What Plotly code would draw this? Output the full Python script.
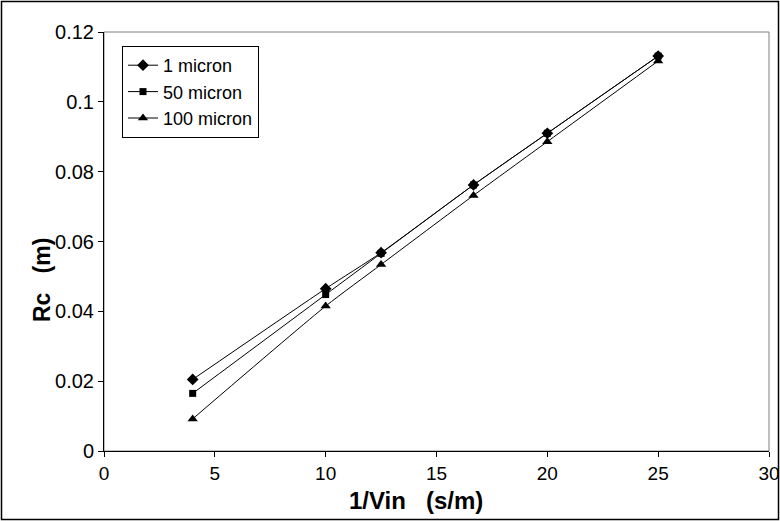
import plotly.graph_objects as go

x_vals = [4, 10, 12.5, 16.67, 20, 25]
rc_1micron = [0.0205, 0.0465, 0.0568, 0.0762, 0.0910, 0.1131]
rc_50micron = [0.0165, 0.0448, 0.0566, 0.0762, 0.0910, 0.1131]
rc_100micron = [0.0092, 0.0415, 0.0534, 0.0732, 0.0886, 0.1117]

series = [
    ("1 micron", rc_1micron, "diamond", 9),
    ("50 micron", rc_50micron, "square", 7),
    ("100 micron", rc_100micron, "triangle-up", 9),
]

fig = go.Figure()
for name, ys, sym, sz in series:
    fig.add_trace(go.Scatter(
        x=x_vals, y=ys, name=name, mode="lines+markers",
        line=dict(color="black", width=1, shape="spline", smoothing=0.6),
        marker=dict(symbol=sym, size=sz, color="black"),
    ))

font = "Liberation Sans, Arial, sans-serif"
L, R, T, B = 104, 11, 32, 70
W, H = 780, 521
pw, ph = W - L - R, H - T - B
sp = "\u00a0\u00a0\u00a0"

def px_x(p):
    return (p - L) / pw

def px_y(p):
    return (H - B - p) / ph

fig.update_layout(
    width=W, height=H,
    margin=dict(l=L, r=R, t=T, b=B, autoexpand=False),
    paper_bgcolor="white", plot_bgcolor="white",
    font=dict(family=font, size=18, color="black"),
    showlegend=True,
    legend=dict(
        x=px_x(122), y=px_y(46), xanchor="left", yanchor="top",
        bordercolor="black", borderwidth=1, bgcolor="white",
        font=dict(family=font, size=18), tracegroupgap=0, itemwidth=30,
    ),
    xaxis=dict(
        range=[0, 30], tickvals=[0, 5, 10, 15, 20, 25, 30],
        showgrid=False, zeroline=False, showline=True, linecolor="black", linewidth=1,
        ticks="outside", ticklen=5, tickcolor="black", automargin=False,
        tickfont=dict(family=font, size=19), ticklabeloverflow="allow",
    ),
    yaxis=dict(
        range=[0, 0.12], tickvals=[0, 0.02, 0.04, 0.06, 0.08, 0.1, 0.12],
        ticktext=["0", "0.02", "0.04", "0.06", "0.08", "0.1", "0.12"],
        showgrid=False, zeroline=False, showline=True, linecolor="black", linewidth=1,
        ticks="outside", ticklen=5, tickcolor="black", automargin=False,
        tickfont=dict(family=font, size=20),
    ),
    annotations=[
        dict(text="<b>1/Vin" + sp + "(s/m)</b>", xref="paper", yref="paper",
             x=px_x(416), y=px_y(500), xanchor="center", yanchor="middle",
             showarrow=False, font=dict(family=font, size=24)),
        dict(text="<b>Rc" + sp + "(m)</b>", xref="paper", yref="paper",
             x=px_x(42), y=px_y(280), xanchor="center", yanchor="middle",
             textangle=-90, showarrow=False, font=dict(family=font, size=23)),
    ],
    shapes=[
        dict(type="rect", xref="paper", yref="paper", x0=0, x1=1, y0=0, y1=1,
             line=dict(color="#808080", width=1), layer="below"),
        dict(type="rect", xref="paper", yref="paper",
             x0=px_x(1.5), x1=px_x(778.5),
             y0=px_y(519.5), y1=px_y(1.5),
             line=dict(color="black", width=1.5)),
    ],
)

fig.write_html(
    "out.html", config={"displayModeBar": False},
    post_script=("document.body.style.margin='0';"
                 "document.body.style.overflow='hidden';"
                 "document.documentElement.style.overflow='hidden';"
                 "var gd=document.querySelector('.plotly-graph-div');"
                 "if(gd){gd.style.overflow='hidden';}"),
)
